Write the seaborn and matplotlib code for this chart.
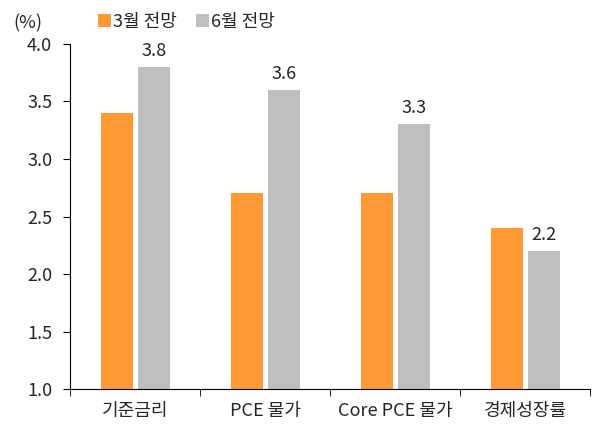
import seaborn as sns
import matplotlib.pyplot as plt
import pandas as pd

# data
categories = ['기준금리', 'PCE 물가', 'Core PCE 물가', '경제성장률']
series = ['3월 전망', '6월 전망']
march = [3.4, 2.7, 2.7, 2.4]
june = [3.8, 3.6, 3.3, 2.2]
colors = ['#FF9933', '#BFBFBF']

df = pd.DataFrame({
    'category': categories * 2,
    'series': [series[0]] * 4 + [series[1]] * 4,
    'value': march + june,
})

sns.set_style('ticks')
plt.rcParams['font.family'] = ['Noto Sans CJK KR', 'DejaVu Sans']
fs = 13

fig = plt.figure(figsize=(5.95, 4.30), dpi=100)
ax = fig.add_axes([0.118, 0.095, 0.874, 0.803])

sns.barplot(data=df, x='category', y='value', hue='series', palette=colors,
            saturation=1, width=0.57, gap=0.14, linewidth=0, ax=ax, legend=True)

ax.set_ylim(1.0, 4.0)
yticks = [1.0, 1.5, 2.0, 2.5, 3.0, 3.5, 4.0]
ax.set_yticks(yticks)
ax.set_yticklabels([f'{v:.1f}' for v in yticks], fontsize=fs)
ax.set_xlim(-0.5, 3.5)
ax.set_xticks(range(4))
ax.set_xticklabels(categories, fontsize=fs)
ax.tick_params(axis='x', length=0, pad=9)
ax.set_xticks([-0.5, 0.5, 1.5, 2.5, 3.5], minor=True)
ax.tick_params(axis='x', which='minor', length=5, color='black')
ax.tick_params(axis='y', length=5, color='black', pad=8)
ax.set_xlabel('')
ax.set_ylabel('')
sns.despine(ax=ax, top=True, right=True)
ax.spines['left'].set_color('black')
ax.spines['bottom'].set_color('black')

# value labels on the June bars only
june_bars = ax.containers[1]
ax.bar_label(june_bars, labels=[f'{v:.1f}' for v in june], padding=5, fontsize=fs)

ax.legend(loc='center left', bbox_to_anchor=(0.04, 1.064), ncol=2, frameon=False,
          fontsize=fs, handlelength=0.7, handleheight=0.7, handletextpad=0.1,
          columnspacing=1.1, borderaxespad=0)

fig.text(0.022, 0.945, '(%)', fontsize=fs, va='center')

fig.savefig('out.png', dpi=100)
